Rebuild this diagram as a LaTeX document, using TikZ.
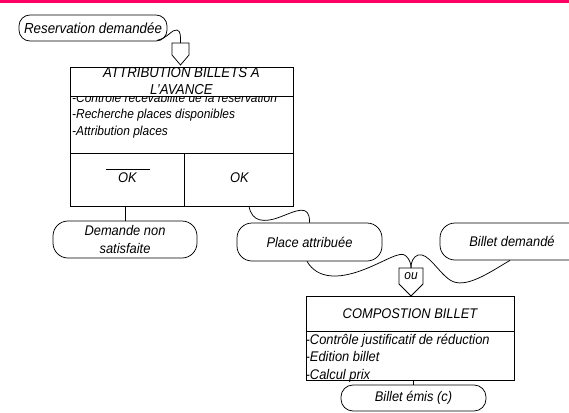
\documentclass[tikz,border=0pt]{standalone}
\usepackage{fontspec}
\setmainfont[FakeStretch=0.92]{Liberation Sans}
\usetikzlibrary{calc}
\definecolor{barpink}{RGB}{255,0,102}
\begin{document}
\begin{tikzpicture}[x=1pt,y=-1pt,
  every node/.style={font=\itshape\fontsize{14}{18}\selectfont},
  term/.style={draw, line width=0.75pt, inner sep=0pt, align=center, rounded corners=15pt},
  cell/.style={draw, line width=0.75pt, inner sep=0pt},
  conn/.style={line width=0.75pt},
  bodytxt/.style={inner sep=0pt, anchor=base west},
  smalltxt/.style={font=\itshape\fontsize{13}{15}\selectfont},
]
\clip (0,0) rectangle (569,412);
\fill[white] (0,0) rectangle (569,412);
\fill[barpink] (0,0) rectangle (569,3);

% start event
\node[term, rounded corners=11pt, minimum width=148pt, minimum height=26pt, font=\itshape\fontsize{14.5}{17}\selectfont] (res) at (93,28) {Reservation demandée};

% synchronisation 1
\draw[line width=0.75pt] (172,43) -- (189,43) -- (189,55) -- (180.5,65) -- (172,55) -- cycle;
\coordinate (p1top) at (180.5,43);

% operation ATTRIBUTION
\node[cell, minimum width=223pt, minimum height=57pt] (attbody) at (181.5,124.5) {};
\node[bodytxt, smalltxt] (a1) at (72,102) {-Controle recevabilite de la reservation};
\node[bodytxt, smalltxt] (a2) at (72,118.5) {-Recherche places disponibles};
\node[bodytxt, smalltxt] (a3) at (72,135) {-Attribution places};
\node[cell, fill=white, minimum width=223pt, minimum height=29pt] (atttitle) at (181.5,81.5) {};
\node[inner sep=0pt, anchor=base, font=\itshape\fontsize{14.4}{17}\selectfont] (t1) at (181.5,77.3) {ATTRIBUTION BILLETS A};
\node[inner sep=0pt, anchor=base, font=\itshape\fontsize{14.4}{17}\selectfont] (t2) at (181.5,94) {L'AVANCE};
\node[cell, minimum width=114pt, minimum height=53pt] (ko) at (127,179.5) {};
\node[cell, minimum width=109pt, minimum height=53pt] (ok) at (238.5,179.5) {};
\node[inner sep=0pt] (kotxt) at (127.5,177.5) {OK};
\draw[line width=0.75pt] (106,169) -- (150,169);
\node[inner sep=0pt] (oktxt) at (239.5,177.5) {OK};

% results
\node[term, minimum width=144pt, minimum height=37pt] (dem) at (125,239.5) {Demande non\\satisfaite};
\node[term, minimum width=145pt, minimum height=38pt] (pla) at (309.5,242) {Place attribuée};
\node[term, minimum width=144pt, minimum height=37pt] (bd) at (512,241.5) {Billet demandé};

% synchronisation ou
\draw[line width=0.75pt] (399,268) -- (423,268) -- (423,284) -- (411,296) -- (399,284) -- cycle;
\coordinate (p2top) at (411,268);
\node[inner sep=0pt, smalltxt] (ou) at (411,276.5) {ou};

% operation COMPOSTION
\node[cell, minimum width=208pt, minimum height=35pt] (comptitle) at (410,313.5) {COMPOSTION BILLET};
\node[cell, minimum width=208pt, minimum height=49pt] (compbody) at (410,355.5) {};
\node[bodytxt] (c1) at (305.5,344) {-Contrôle justificatif de réduction};
\node[bodytxt] (c2) at (305.5,361.5) {-Edition billet};
\node[bodytxt] (c3) at (305.5,379) {-Calcul prix};

\node[term, rounded corners=12pt, minimum width=145pt, minimum height=26pt] (be) at (413.5,398) {Billet émis (c)};

% connectors
\draw[conn] ($(res.south)+(64,-1)$) .. controls (168,38) and (172,29) .. (177,30) .. controls (181,31) and (180.5,37) .. (p1top);
\draw[conn] (dem.north) -- (dem.north |- ko.south);
\draw[conn] ($(ok.south)+(10.5,0)$) .. controls (252,222) and (264,223) .. (280,217) .. controls (296,211) and (310,203) .. (pla.north);
\draw[conn] ($(pla.south)+(-2.5,0)$) .. controls (318,280) and (340,278) .. (360,271) .. controls (385,262) and (400,250) .. (406,256) .. controls (410,260) and (411,264) .. (p2top);
\draw[conn] ($(bd.south)+(-2,0)$) .. controls (490,272) and (465,290) .. (450,280) .. controls (438,272) and (428,252) .. (418,255) .. controls (413,257) and (411,262) .. (p2top);
\draw[conn] (be.north) -- (be.north |- compbody.south);
\end{tikzpicture}
\end{document}
